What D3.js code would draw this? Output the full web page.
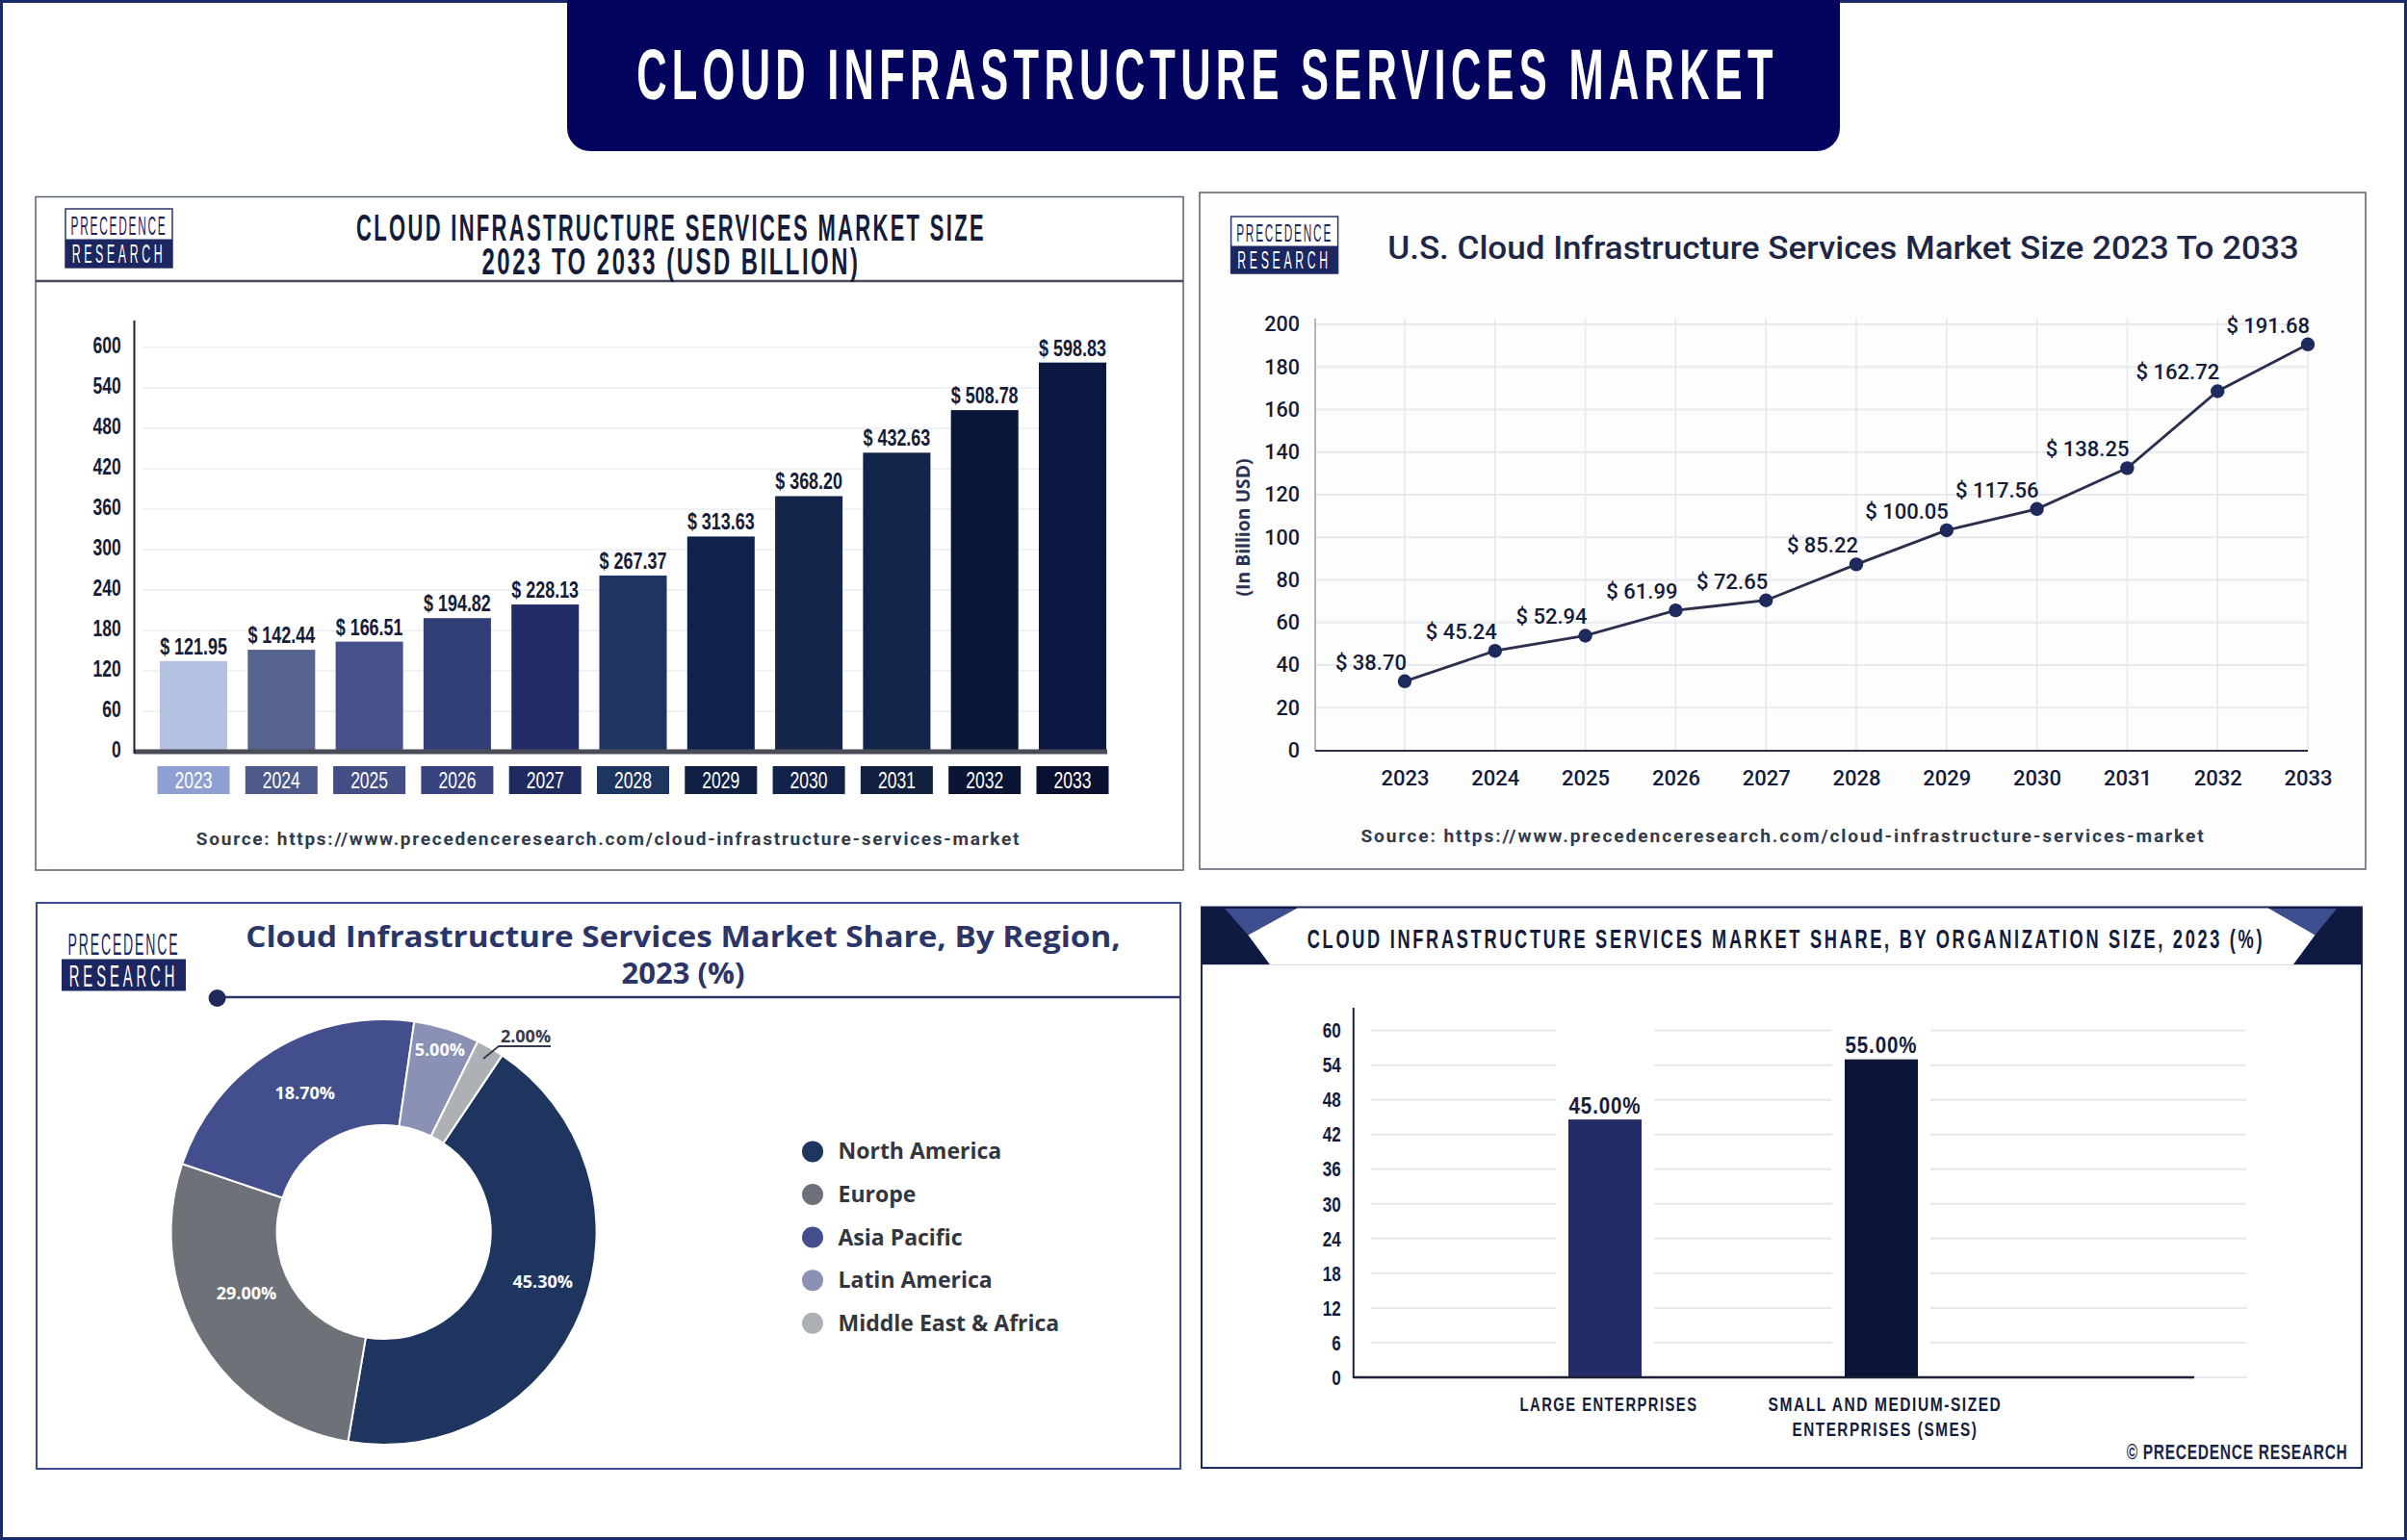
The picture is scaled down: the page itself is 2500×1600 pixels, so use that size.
<!DOCTYPE html>
<html>
<head>
<meta charset="utf-8">
<script src="https://cdn.jsdelivr.net/npm/d3@7"></script>
<style>
  body { margin: 0; background: #fff; }
  svg { display: block; }
</style>
</head>
<body>
<svg id="chart" width="2500" height="1600"></svg>
<script>
const years = ['2023','2024','2025','2026','2027','2028','2029','2030','2031','2032','2033'];

// global market: bar heights as read against the axis, and the printed labels
const globalBars = [134.5, 151.3, 163.4, 198.3, 218.5, 261.5, 319.4, 379.3, 443.8, 507, 577.6];
const globalLabels = ['$ 121.95','$ 142.44','$ 166.51','$ 194.82','$ 228.13','$ 267.37','$ 313.63','$ 368.20','$ 432.63','$ 508.78','$ 598.83'];
const globalTicks = [0,60,120,180,240,300,360,420,480,540,600];
const barColors = ['#b5c1e0','#56648f','#47528c','#323f76','#222c66','#1d3560','#10224c','#142549','#12244a','#0a1638','#0a1842'];
const chipColors = ['#8f9fd2','#4e5b8a','#434e85','#37427f','#1f2a60','#1e3560','#101f44','#12224a','#12213f','#0a1434','#0a1030'];

// U.S. market: point heights as read against the axis, and the printed labels
const usPoints = [32.4, 46.7, 53.8, 65.7, 70.4, 87.3, 103.3, 113.3, 132.5, 168.6, 190.6];
const usLabels = ['$ 38.70','$ 45.24','$ 52.94','$ 61.99','$ 72.65','$ 85.22','$ 100.05','$ 117.56','$ 138.25','$ 162.72','$ 191.68'];
const usTicks = [0,20,40,60,80,100,120,140,160,180,200];

// region share: slice sizes as drawn, and the printed labels
const regions = ['North America','Europe','Asia Pacific','Latin America','Middle East & Africa'];
const regionSlices = [43.3, 27.5, 22.1, 5.0, 2.1];
const regionLabels = ['45.30%','29.00%','18.70%','5.00%','2.00%'];
const regionColors = ['#1e3560','#6d7278','#434f8c','#8a91b5','#adb0b5'];

// organization size share
const orgNames = ['LARGE ENTERPRISES','SMALL AND MEDIUM-SIZED|ENTERPRISES (SMES)'];
const orgBars = [44.6, 55];
const orgLabels = ['45.00%','55.00%'];
const orgColors = ['#232c66','#0b1538'];
const orgTicks = [0,6,12,18,24,30,36,42,48,54,60];

const NARROW = '"Liberation Sans", sans-serif';
const ROBOTO = 'Roboto, sans-serif';
const OPEN = '"Open Sans", sans-serif';
const INK = '#141c3a';
const SOURCE_TEXT = 'Source: https://www.precedenceresearch.com/cloud-infrastructure-services-market';

const svg = d3.select('#chart');

// o.fit = wanted width in px, o.squeeze = horizontal scale. No condensed face is installed
// so the narrow text of the original is made by scaling the glyphs.
function label(g, x, y, str, o = {}) {
  const t = g.append('text')
    .attr('text-anchor', o.anchor || 'middle')
    .attr('font-family', o.font || NARROW)
    .attr('font-size', o.size || 22)
    .attr('font-weight', o.weight || 700)
    .attr('fill', o.fill || INK)
    .text(str);
  if (o.spacing) t.attr('letter-spacing', o.spacing);
  let sx = o.squeeze || 1;
  if (o.fit) sx = o.fit / t.node().getComputedTextLength();
  const turn = o.rotate ? `rotate(${o.rotate})` : '';
  t.attr('transform', `translate(${x},${y})${turn}scale(${sx},1)`);
  return t;
}

function logo(g, x, y, w, h, border) {
  const half = h / 2;
  g.append('rect').attr('x', x).attr('y', y).attr('width', w).attr('height', h)
    .attr('fill', '#fff').attr('stroke', border ? '#2a3568' : 'none').attr('stroke-width', 1.5);
  g.append('rect').attr('x', x).attr('y', y + half + 1).attr('width', w).attr('height', half - 1).attr('fill', '#1c2660');
  label(g, x + w / 2, y + half - 3.5, 'PRECEDENCE', { size: h * 0.45, fit: w * 0.9, fill: '#1c2660', weight: 400, spacing: 4 });
  label(g, x + w / 2, y + h - 5, 'RESEARCH', { size: h * 0.45, fit: w * 0.88, fill: '#fff', weight: 400, spacing: 8 });
}

function styleAxis(g, size, font, weight, sx = 1) {
  g.select('.domain').remove();
  g.selectAll('.tick line').remove();
  g.selectAll('.tick text')
    .attr('font-family', font).attr('font-size', size).attr('font-weight', weight).attr('fill', INK)
    .attr('transform', `scale(${sx},1)`);
}

// ---- outer frame and banner
svg.append('rect').attr('x', 1.5).attr('y', 1.5).attr('width', 2497).attr('height', 1597)
  .attr('fill', '#fff').attr('stroke', '#1b2a6b').attr('stroke-width', 3);
svg.append('path')
  .attr('d', 'M589,0H1911V133a24,24 0 0 1 -24,24H613a24,24 0 0 1 -24,-24Z')
  .attr('fill', '#03045e');
label(svg, 1254, 103, 'CLOUD INFRASTRUCTURE SERVICES MARKET', { size: 74, fit: 1186, fill: '#fff', spacing: 9 });

// ---- panel 1, global bars
{
  const g = svg.append('g');
  g.append('rect').attr('x', 37).attr('y', 204.5).attr('width', 1192).attr('height', 699.5)
    .attr('fill', '#fff').attr('stroke', '#59606e').attr('stroke-width', 1.5);
  g.append('line').attr('x1', 37).attr('x2', 1229).attr('y1', 292).attr('y2', 292)
    .attr('stroke', '#474c58').attr('stroke-width', 2.5);
  logo(g, 68, 217, 111, 61, true);
  label(g, 697, 250, 'CLOUD INFRASTRUCTURE SERVICES MARKET SIZE', { size: 38, fit: 654, spacing: 4 });
  label(g, 697, 285, '2023 TO 2033 (USD BILLION)', { size: 38, fit: 393, spacing: 4 });

  const x = d3.scaleBand().domain(years).range([166, 1149]).paddingInner(0.233);
  const y = d3.scaleLinear().domain([0, 600]).range([781, 361]);

  g.append('g').selectAll('line').data(globalTicks.slice(1)).join('line')
    .attr('x1', 148).attr('x2', 1150).attr('y1', d => y(d)).attr('y2', d => y(d))
    .attr('stroke', '#eceef1').attr('stroke-width', 1.5);

  g.append('g').selectAll('rect').data(globalBars).join('rect')
    .attr('x', (d, i) => x(years[i])).attr('width', x.bandwidth())
    .attr('y', d => y(d)).attr('height', d => y(0) - y(d))
    .attr('fill', (d, i) => barColors[i]);

  g.append('line').attr('x1', 139.5).attr('x2', 1150).attr('y1', y(0)).attr('y2', y(0))
    .attr('stroke', '#4a4c58').attr('stroke-width', 5);
  g.append('line').attr('x1', 139.5).attr('x2', 139.5).attr('y1', 333).attr('y2', 783)
    .attr('stroke', '#1c2138').attr('stroke-width', 2);

  g.append('g').attr('transform', 'translate(128,-1.5)')
    .call(d3.axisLeft(y).tickValues(globalTicks).tickFormat(d3.format('d')).tickSize(0))
    .call(a => styleAxis(a, 23, NARROW, 700, 0.76));

  globalLabels.forEach((s, i) => {
    label(g, x(years[i]) + x.bandwidth() / 2, y(globalBars[i]) - 7, s, { size: 23, squeeze: 0.78 });
  });

  g.append('g').selectAll('rect').data(years).join('rect')
    .attr('x', d => x(d) + x.bandwidth() / 2 - 37.5).attr('y', 796).attr('width', 75).attr('height', 29)
    .attr('fill', (d, i) => chipColors[i]);
  g.append('g').attr('transform', 'translate(0,810.5)')
    .call(d3.axisBottom(x).tickSize(0).tickPadding(0))
    .call(a => {
      styleAxis(a, 24, NARROW, 400, 0.73);
      a.selectAll('.tick text').attr('fill', '#fff').attr('dy', '0.35em');
    });

  label(g, 632, 877.5, SOURCE_TEXT, { font: ROBOTO, size: 18, weight: 700, fit: 857, spacing: 1.6, fill: '#333a4a' });
}

// ---- panel 2, U.S. line
{
  const g = svg.append('g');
  g.append('rect').attr('x', 1246).attr('y', 200).attr('width', 1211).attr('height', 703)
    .attr('fill', '#fdfdfe').attr('stroke', '#59606e').attr('stroke-width', 1.5);
  logo(g, 1278.6, 225, 111, 59, true);
  label(g, 1914.5, 269, 'U.S. Cloud Infrastructure Services Market Size 2023 To 2033',
    { font: ROBOTO, size: 34, weight: 500, fit: 947, fill: '#1d2745' });

  const x = d3.scalePoint().domain(years).range([1459, 2397]);
  const y = d3.scaleLinear().domain([0, 200]).range([779.5, 337]);

  g.append('g').selectAll('line').data(usTicks.slice(1)).join('line')
    .attr('x1', 1366).attr('x2', 2397).attr('y1', d => y(d)).attr('y2', d => y(d))
    .attr('stroke', '#e8eaee').attr('stroke-width', 2);
  g.append('g').selectAll('line').data(years).join('line')
    .attr('x1', d => x(d)).attr('x2', d => x(d)).attr('y1', 331).attr('y2', 780)
    .attr('stroke', '#e3e6ec').attr('stroke-width', 1.4);

  g.append('line').attr('x1', 1366).attr('x2', 1366).attr('y1', 331).attr('y2', 780)
    .attr('stroke', '#9a9eaa').attr('stroke-width', 1.5);
  g.append('line').attr('x1', 1366).attr('x2', 2397).attr('y1', 780).attr('y2', 780)
    .attr('stroke', '#2a2e48').attr('stroke-width', 2);

  const line = d3.line().x((d, i) => x(years[i])).y(d => y(d));
  g.append('path').datum(usPoints).attr('d', line)
    .attr('fill', 'none').attr('stroke', '#2b2f4c').attr('stroke-width', 2.8);
  g.append('g').selectAll('circle').data(usPoints).join('circle')
    .attr('cx', (d, i) => x(years[i])).attr('cy', d => y(d)).attr('r', 7.2)
    .attr('fill', '#1f2a5c');

  usLabels.forEach((s, i) => {
    label(g, x(years[i]) + 2, y(usPoints[i]) - 12, s,
      { font: ROBOTO, size: 22, weight: 500, anchor: 'end' });
  });

  g.append('g').attr('transform', 'translate(1353,0)')
    .call(d3.axisLeft(y).tickValues(usTicks).tickSize(0))
    .call(a => styleAxis(a, 21.5, ROBOTO, 500));
  g.append('g').attr('transform', 'translate(0,800)')
    .call(d3.axisBottom(x).tickSize(0).tickPadding(0))
    .call(a => {
      styleAxis(a, 22, ROBOTO, 500);
      a.selectAll('.tick text').attr('dy', '0.71em');
    });

  label(g, 1298, 548, '(In Billion USD)', { font: OPEN, size: 19, weight: 700, fit: 143, fill: '#2b3354', rotate: -90 });

  label(g, 1852, 875, SOURCE_TEXT, { font: ROBOTO, size: 18, weight: 700, fit: 878, spacing: 1.8, fill: '#333a4a' });
}

// ---- panel 3, region donut
{
  const g = svg.append('g');
  g.append('rect').attr('x', 38).attr('y', 938).attr('width', 1188).attr('height', 588)
    .attr('fill', '#fff').attr('stroke', '#3a4a9a').attr('stroke-width', 2);
  logo(g, 64, 961.5, 129, 68, false);
  label(g, 709.5, 984, 'Cloud Infrastructure Services Market Share, By Region,',
    { font: OPEN, size: 31, weight: 700, fit: 909, fill: '#2b3567' });
  label(g, 709.5, 1022, '2023 (%)', { font: OPEN, size: 31, weight: 700, fill: '#2b3567' });
  g.append('line').attr('x1', 225).attr('x2', 1226).attr('y1', 1036).attr('y2', 1036)
    .attr('stroke', '#2c3568').attr('stroke-width', 2.5);
  g.append('circle').attr('cx', 225.6).attr('cy', 1037).attr('r', 9).attr('fill', '#1f2a5c');

  const start = 33.8 * Math.PI / 180;
  const pie = d3.pie().sort(null).startAngle(start).endAngle(start + 2 * Math.PI);
  const arc = d3.arc().innerRadius(111).outerRadius(221);
  const donut = g.append('g').attr('transform', 'translate(398.6,1280)');
  const slices = pie(regionSlices);
  donut.selectAll('path').data(slices).join('path')
    .attr('d', arc).attr('fill', (d, i) => regionColors[i])
    .attr('stroke', '#fff').attr('stroke-width', 2);

  // printed labels sit a little off the centroids in the original
  const nudges = [[11, -9], [0, -21], [5, -3], [9, -30]];
  nudges.forEach((n, i) => {
    const c = arc.centroid(slices[i]);
    label(donut, c[0] + n[0], c[1] + n[1] + 6, regionLabels[i],
      { font: OPEN, size: 18, weight: 700, fill: '#fff' });
  });
  label(g, 546, 1083, regionLabels[4], { font: OPEN, size: 18, weight: 700, fill: '#333a4a' });
  g.append('path').attr('d', 'M502,1100L518,1087H572')
    .attr('fill', 'none').attr('stroke', '#333a4a').attr('stroke-width', 1.8);

  const legendY = d3.scalePoint().domain(regions).range([1196.4, 1374.7]);
  g.append('g').selectAll('circle').data(regions).join('circle')
    .attr('cx', 844).attr('cy', d => legendY(d)).attr('r', 11)
    .attr('fill', (d, i) => regionColors[i]);
  regions.forEach(r => {
    label(g, 870.5, legendY(r) + 8, r, { font: OPEN, size: 23, weight: 700, anchor: 'start', fill: '#33363f' });
  });
}

// ---- panel 4, organization size bars
{
  const g = svg.append('g');
  g.append('rect').attr('x', 1248).attr('y', 942.5).attr('width', 1205).attr('height', 582.5)
    .attr('fill', '#fff').attr('stroke', '#1f2a5c').attr('stroke-width', 2);
  g.append('rect').attr('x', 1248).attr('y', 942.5).attr('width', 1205).attr('height', 59.7).attr('fill', '#0f1a42');
  g.append('path').attr('d', 'M1272,944H1347L1296.4,971.4Z M2427,944H2356L2404.5,971.4Z').attr('fill', '#3d4f8f');
  g.append('path').attr('d', 'M1347.4,943.5H2355.9L2404.5,971.4L2381.8,1002.2H1319L1296.4,971.4Z').attr('fill', '#fff');
  label(g, 1855, 984.5, 'CLOUD INFRASTRUCTURE SERVICES MARKET SHARE, BY ORGANIZATION SIZE, 2023 (%)',
    { size: 27, fit: 995, spacing: 4 });

  const x = d3.scaleBand().domain(orgNames).range([1629, 1992]).paddingInner(0.735);
  const y = d3.scaleLinear().domain([0, 60]).range([1431, 1070.6]);

  g.append('g').selectAll('line').data(orgTicks).join('line')
    .attr('x1', 1424).attr('x2', 2333).attr('y1', d => y(d)).attr('y2', d => y(d))
    .attr('stroke', '#e6e8ec').attr('stroke-width', 2);

  // gridlines stop short of each bar
  g.append('g').selectAll('rect').data(orgNames).join('rect')
    .attr('x', d => x(d) - 13).attr('width', x.bandwidth() + 26)
    .attr('y', 1060).attr('height', 368).attr('fill', '#fff');

  g.append('g').selectAll('rect').data(orgBars).join('rect')
    .attr('x', (d, i) => x(orgNames[i])).attr('width', x.bandwidth())
    .attr('y', d => y(d)).attr('height', d => y(0) - y(d))
    .attr('fill', (d, i) => orgColors[i]);

  g.append('line').attr('x1', 1405.8).attr('x2', 1405.8).attr('y1', 1047).attr('y2', 1432)
    .attr('stroke', '#1c2138').attr('stroke-width', 2);
  g.append('line').attr('x1', 1405.8).attr('x2', 2279).attr('y1', 1431).attr('y2', 1431)
    .attr('stroke', '#1c2138').attr('stroke-width', 2.5);

  g.append('g').attr('transform', 'translate(1395,0)')
    .call(d3.axisLeft(y).tickValues(orgTicks).tickSize(0))
    .call(a => styleAxis(a, 22.5, NARROW, 700, 0.76));

  orgLabels.forEach((s, i) => {
    label(g, x(orgNames[i]) + x.bandwidth() / 2, y(orgBars[i]) - 6.5, s, { size: 23, fit: 75, spacing: 1 });
  });
  const orgLineWidths = [[185], [243, 193]];
  orgNames.forEach((n, k) => {
    const cx = x(n) + x.bandwidth() / 2 + 4;
    n.split('|').forEach((part, j) => {
      label(g, cx, 1466 + j * 26, part, { size: 20, weight: 700, fit: orgLineWidths[k][j], spacing: 2 });
    });
  });

  label(g, 2438.5, 1516, '© PRECEDENCE RESEARCH', { size: 22, weight: 700, anchor: 'end', fit: 230, spacing: 1, fill: '#1a2547' });
}
</script>
</body>
</html>
